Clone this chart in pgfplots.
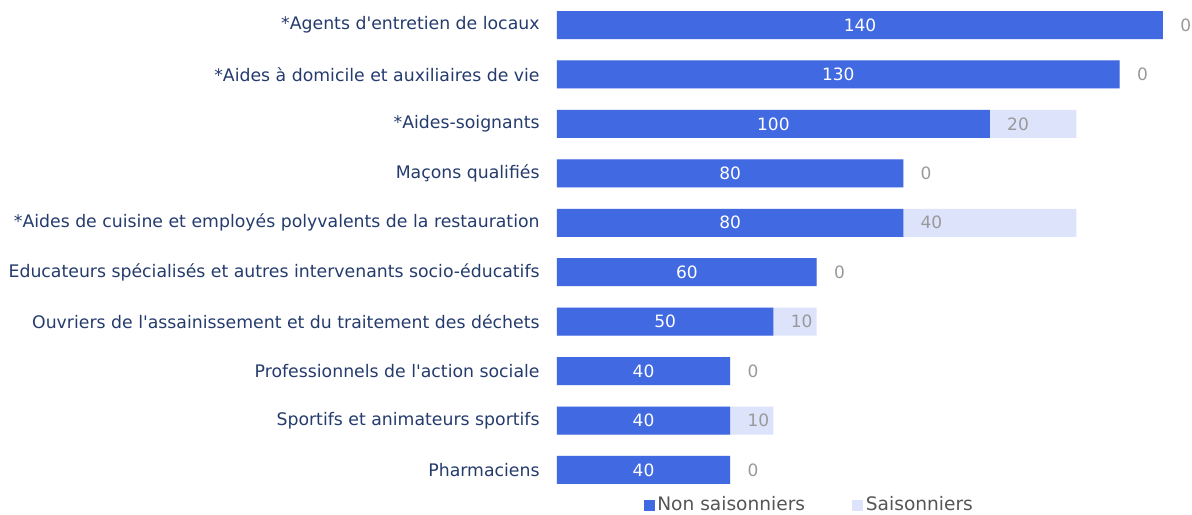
\documentclass[border=0pt]{standalone}
\usepackage{pgfplots}
\pgfplotsset{compat=1.18}
\usepackage{pgfplotstable}
\usepackage{fontspec}
\setmainfont{DejaVu Sans}
\definecolor{barblue}{HTML}{4169E1}
\definecolor{barlight}{HTML}{DCE3FB}
\definecolor{labnavy}{HTML}{243B6C}
\definecolor{valgray}{HTML}{999999}
\definecolor{leggray}{HTML}{555555}

\pgfplotstableread{
idx ns s tot half
0 140 0 140 70
1 130 0 130 65
2 100 20 120 50
3 80 0 80 40
4 80 40 120 40
5 60 0 60 30
6 50 10 60 25
7 40 0 40 20
8 40 10 50 20
9 40 0 40 20
}\data

\begin{document}
\begin{tikzpicture}
\begin{axis}[
  name=ax,
  x=2.1645pt, y=24.72pt,
  y dir=reverse,
  xmin=0, xmax=146.7,
  ymin=-0.506, ymax=9.911,
  axis line style={draw=none},
  xtick=\empty,
  ytick={0,...,9},
  ytick style={draw=none},
  yticklabels={{*Agents d\textquotesingle entretien de locaux},{*Aides à domicile et auxiliaires de vie},{*Aides-soignants},{Maçons qualifiés},{*Aides de cuisine et employés polyvalents de la restauration},{Educateurs spécialisés et autres intervenants socio-éducatifs},{Ouvriers de l\textquotesingle assainissement et du traitement des déchets},{Professionnels de l\textquotesingle action sociale},{Sportifs et animateurs sportifs},{Pharmaciens}},
  yticklabel style={font=\fontsize{8.65}{10}\selectfont, text=labnavy, anchor=east, inner sep=0pt, xshift=-8.5pt},
  clip=false,
  legend columns=2,
  legend style={draw=none, fill=none, at={(0.398,0.019)}, anchor=center,
    font=\fontsize{9.3}{11}\selectfont, text=leggray,
    /tikz/every even column/.append style={column sep=22pt},
    nodes={inner sep=1.5pt}},
  legend image code/.code={\fill[#1] (0pt,-2.5pt) rectangle (5pt,2.5pt);},
]
\addplot[xbar, bar shift=0pt, bar width=14pt, fill=barlight, draw=none, forget plot] table[x=tot, y=idx] {\data};
\addplot[xbar, bar shift=0pt, bar width=14pt, fill=barblue, draw=none, forget plot] table[x=ns, y=idx] {\data};
\addplot[only marks, mark=none, forget plot, nodes near coords, point meta=explicit symbolic,
  nodes near coords style={anchor=center, text=white, font=\fontsize{8.5}{10}\selectfont}]
  table[x=half, y=idx, meta=ns] {\data};
\addplot[only marks, mark=none, forget plot, nodes near coords, point meta=explicit symbolic,
  nodes near coords style={anchor=west, inner sep=0pt, xshift=8.5pt, text=valgray, font=\fontsize{8.5}{10}\selectfont}]
  table[x=ns, y=idx, meta=s] {\data};
\addlegendimage{barblue}
\addlegendentry{Non saisonniers}
\addlegendimage{barlight}
\addlegendentry{Saisonniers}
\end{axis}
\pgfresetboundingbox
\path ([xshift=-278.5pt]ax.south west) rectangle (ax.north east);
\end{tikzpicture}
\end{document}
